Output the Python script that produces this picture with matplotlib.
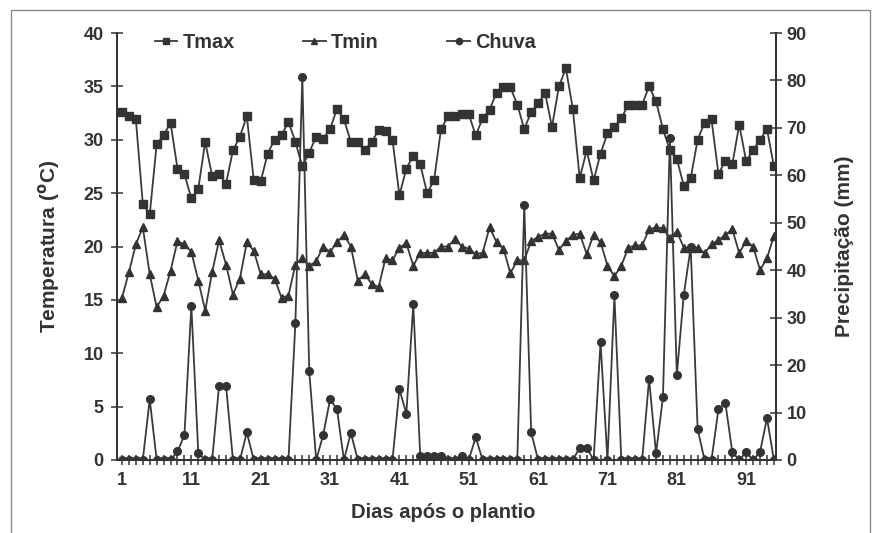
import matplotlib
matplotlib.use("Agg")
import matplotlib.pyplot as plt
from matplotlib.lines import Line2D
from matplotlib.patches import Rectangle

plt.rcParams["font.family"] = ["Liberation Sans", "DejaVu Sans"]
plt.rcParams["font.weight"] = "bold"

# daily values
days = list(range(1, 96))
tmax = [32.6, 32.2, 31.9, 24.0, 23.0, 29.6, 30.4, 31.6, 27.3, 26.8,
        24.5, 25.4, 29.8, 26.6, 26.8, 25.9, 29.0, 30.3, 32.2, 26.2,
        26.1, 28.7, 30.0, 30.4, 31.7, 29.8, 27.5, 28.8, 30.3, 30.1,
        31.0, 32.9, 31.9, 29.8, 29.8, 29.0, 29.8, 30.9, 30.8, 30.0,
        24.8, 27.3, 28.5, 27.7, 25.0, 26.2, 31.0, 32.2, 32.2, 32.4,
        32.4, 30.4, 32.0, 32.8, 34.4, 34.9, 34.9, 33.3, 31.0, 32.6,
        33.4, 34.4, 31.2, 35.0, 36.7, 32.9, 26.4, 29.0, 26.2, 28.7,
        30.6, 31.2, 32.0, 33.3, 33.3, 33.3, 35.0, 33.6, 31.0, 29.0,
        28.2, 25.7, 26.4, 30.0, 31.6, 31.9, 26.8, 28.0, 27.7, 31.4,
        28.0, 29.0, 30.0, 31.0, 27.5]
tmin = [15.2, 17.6, 20.2, 21.8, 17.4, 14.3, 15.4, 17.7, 20.5, 20.2,
        19.5, 16.8, 14.0, 17.6, 20.6, 18.3, 15.5, 17.0, 20.4, 19.6,
        17.4, 17.4, 17.0, 15.2, 15.4, 18.3, 18.9, 18.2, 18.6, 20.0,
        19.5, 20.4, 21.1, 20.0, 16.8, 17.4, 16.5, 16.2, 18.9, 18.7,
        19.9, 20.3, 18.2, 19.4, 19.4, 19.4, 20.0, 20.0, 20.7, 20.0,
        19.8, 19.3, 19.4, 21.8, 20.4, 19.8, 17.5, 18.7, 18.7, 20.5,
        20.9, 21.2, 21.2, 19.7, 20.5, 21.1, 21.2, 19.3, 21.1, 20.4,
        18.2, 17.2, 18.2, 19.9, 20.1, 20.1, 21.6, 21.8, 21.7, 20.8,
        21.4, 19.9, 19.9, 19.9, 19.4, 20.2, 20.6, 21.1, 21.6, 19.4,
        20.5, 20.0, 17.8, 18.9, 21.0]
chuva = [0, 0, 0, 0, 12.8, 0, 0, 0, 1.8, 5.2,
         32.5, 1.5, 0, 0, 15.7, 15.7, 0, 0, 5.8, 0,
         0, 0, 0, 0, 0, 28.8, 80.8, 18.7, 0, 5.2,
         12.8, 10.7, 0, 5.7, 0, 0, 0, 0, 0, 0,
         14.9, 9.8, 32.8, 0.9, 0.9, 0.9, 0.9, 0, 0, 0.9,
         0, 4.8, 0, 0, 0, 0, 0, 0, 53.8, 5.8,
         0, 0, 0, 0, 0, 0, 2.6, 2.6, 0, 24.8,
         0, 34.7, 0, 0, 0, 0, 17.1, 1.4, 13.2, 67.8,
         17.9, 34.8, 44.8, 6.5, 0, 0, 10.7, 12.0, 1.7, 0,
         1.7, 0, 1.7, 8.8, 0]

xlabels = [1, 11, 21, 31, 41, 51, 61, 71, 81, 91]
temp_ticks = [0, 5, 10, 15, 20, 25, 30, 35, 40]
rain_ticks = [0, 10, 20, 30, 40, 50, 60, 70, 80, 90]

ink = "#333333"
line_c = "#3a3a3a"

fig = plt.figure(figsize=(8.74, 5.33), dpi=100)
ax = fig.add_axes([117 / 874, 1 - 460 / 533, 659 / 874, 427 / 533])
ax2 = ax.twinx()

ax.plot(days, tmax, color=line_c, lw=1.3, marker="s", ms=6,
        mfc=ink, mec=ink, zorder=3)
ax.plot(days, tmin, color=line_c, lw=1.3, marker="^", ms=5.5,
        mfc=ink, mec=ink, zorder=3)
ax2.plot(days, chuva, color=line_c, lw=1.3, marker="o", ms=5.5,
         mfc=ink, mec=ink, zorder=3)

ax.set_xlim(0.28, 95.3)
ax.set_ylim(0, 40)
ax2.set_ylim(0, 90)

ax.set_xticks(days)
ax.set_xticklabels([str(d) if d in xlabels else "" for d in days])
ax.set_yticks(temp_ticks)
ax2.set_yticks(rain_ticks)

for a in (ax, ax2):
    a.spines["top"].set_visible(False)
    for s in ("left", "right", "bottom"):
        a.spines[s].set_color(ink)
        a.spines[s].set_linewidth(1.4)

ax.tick_params(axis="x", direction="inout", length=7, width=1.1,
               color=ink, labelsize=13, pad=5, labelcolor=ink)
ax.tick_params(axis="y", direction="inout", length=9, width=1.1,
               color=ink, labelsize=13, pad=5, labelcolor=ink)
ax2.tick_params(axis="y", direction="inout", length=9, width=1.1,
                color=ink, labelsize=13, pad=3, labelcolor=ink)

ax.set_xlabel("Dias após o plantio", fontsize=14.5, fontweight="bold", color=ink)
ax.xaxis.set_label_coords(0.495, -0.101)
ax.set_ylabel("Temperatura ($\\mathbf{^{o}}$C)", fontsize=15, fontweight="bold", color=ink)
ax.yaxis.set_label_coords(-0.083, 0.5)
ax2.set_ylabel("Precipitação (mm)", fontsize=15, fontweight="bold", color=ink)
ax2.yaxis.set_label_coords(1.09, 0.5)

handles = [
    Line2D([], [], color=line_c, lw=1.3, marker="s", ms=5, mfc=ink, mec=ink),
    Line2D([], [], color=line_c, lw=1.3, marker="^", ms=5, mfc=ink, mec=ink),
    Line2D([], [], color=line_c, lw=1.3, marker="o", ms=4.5, mfc=ink, mec=ink),
]
leg = ax.legend(handles, ["Tmax", "Tmin", "Chuva"], loc="center left",
                bbox_to_anchor=(0.057, 0.978), ncol=3, frameon=False,
                handlelength=1.15, handletextpad=0.25, columnspacing=3.45,
                borderpad=0, borderaxespad=0,
                prop={"size": 14.3, "weight": "bold"})
for t in leg.get_texts():
    t.set_color(ink)

# outer chart frame
fig.patches.append(Rectangle((11 / 874, -0.05), 859 / 874, 1.05 - 10 / 533,
                             transform=fig.transFigure, fill=False,
                             edgecolor="#8a8a8a", lw=1))

fig.savefig("out.png", dpi=100)
